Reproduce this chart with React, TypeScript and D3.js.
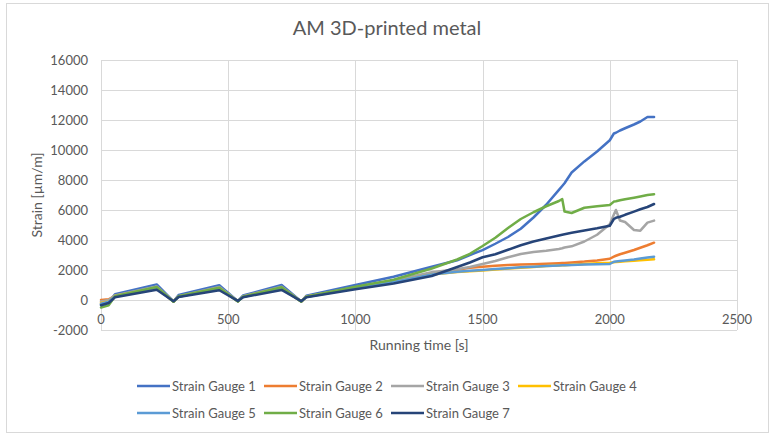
import React from "react";
import * as d3 from "d3";

const title = "AM 3D-printed metal";
const xTitle = "Running time [s]";
const yTitle = "Strain [µm/m]";
const xTicks = [0, 500, 1000, 1500, 2000, 2500];
const yTicks = [-2000, 0, 2000, 4000, 6000, 8000, 10000, 12000, 14000, 16000];

const times = [0, 30, 55, 219, 285, 305, 465, 538, 558, 710, 787, 807, 1000, 1150, 1300, 1400, 1450, 1500, 1550, 1600, 1650, 1700, 1750, 1800, 1813, 1822, 1850, 1900, 1950, 2000, 2016, 2024, 2040, 2060, 2095, 2120, 2148, 2174];

const sg1 = [-300, -150, 380, 1040, -100, 330, 980, -80, 300, 1000, -100, 280, 1000, 1550, 2220, 2650, 3000, 3330, 3750, 4200, 4750, 5500, 6350, 7340, 7600, 7780, 8500, 9240, 9900, 10650, 11100, 11150, 11300, 11450, 11700, 11900, 12200, 12200];
const sg2 = [0, 50, 280, 820, -100, 230, 800, -80, 220, 820, -100, 220, 820, 1250, 1800, 2020, 2150, 2220, 2280, 2330, 2360, 2390, 2420, 2450, 2460, 2470, 2500, 2560, 2640, 2750, 2890, 2950, 3050, 3150, 3330, 3480, 3650, 3820];
const sg3 = [-100, 0, 300, 900, -100, 250, 870, -80, 250, 880, -100, 230, 850, 1300, 1850, 2050, 2200, 2400, 2600, 2850, 3070, 3200, 3280, 3400, 3450, 3500, 3580, 3900, 4350, 5050, 5700, 6000, 5300, 5200, 4670, 4620, 5160, 5290];
const sg4 = [-200, -100, 260, 800, -100, 220, 780, -80, 210, 800, -100, 210, 800, 1200, 1700, 1870, 1920, 1960, 2030, 2100, 2150, 2200, 2260, 2300, 2310, 2320, 2350, 2400, 2450, 2490, 2520, 2530, 2550, 2580, 2620, 2650, 2680, 2710];
const sg5 = [-250, -120, 250, 780, -100, 210, 770, -80, 200, 790, -100, 200, 790, 1200, 1700, 1880, 1950, 2000, 2060, 2120, 2180, 2220, 2270, 2300, 2310, 2320, 2340, 2360, 2380, 2400, 2550, 2570, 2600, 2640, 2700, 2760, 2830, 2890];
const sg6 = [-500, -350, 250, 870, -120, 250, 820, -100, 220, 850, -110, 220, 880, 1350, 2100, 2700, 3080, 3600, 4150, 4800, 5400, 5850, 6250, 6600, 6730, 5900, 5800, 6150, 6250, 6330, 6560, 6580, 6650, 6720, 6820, 6900, 7000, 7050];
const sg7 = [-350, -200, 180, 680, -80, 200, 650, -60, 180, 670, -80, 180, 710, 1100, 1600, 2200, 2500, 2850, 3050, 3350, 3650, 3900, 4100, 4300, 4350, 4380, 4480, 4630, 4780, 4950, 5400, 5480, 5550, 5680, 5890, 6050, 6200, 6400];

const seriesNames = ["Strain Gauge 1", "Strain Gauge 2", "Strain Gauge 3", "Strain Gauge 4", "Strain Gauge 5", "Strain Gauge 6", "Strain Gauge 7"];
const seriesValues = [sg1, sg2, sg3, sg4, sg5, sg6, sg7];
const seriesColors = ["#4472C4", "#ED7D31", "#A5A5A5", "#FFC000", "#5B9BD5", "#70AD47", "#264478"];

const W = 772;
const H = 435;
const plot = { left: 101, right: 737, top: 60, bottom: 330 };
const font = "Lato, 'Open Sans', sans-serif";
const textColor = "#595959";
const gridColor = "#d9d9d9";

export default function App() {
  const x = d3.scaleLinear().domain([0, 2500]).range([plot.left, plot.right]);
  const y = d3.scaleLinear().domain([-2000, 16000]).range([plot.bottom, plot.top]);
  const line = d3
    .line<number>()
    .x((_, i) => x(times[i]))
    .y((d) => y(d));

  const legendCols = [137, 264, 391, 518];
  const legendRows = [386, 413];

  return (
    <svg
      width={W}
      height={H}
      style={{ position: "absolute", left: 0, top: 0, background: "#fff" }}
      fontFamily={font}
    >
      <rect x={6.5} y={3.5} width={762} height={429} fill="#fff" stroke={gridColor} strokeWidth={1} />
      <text x={W / 2 + 1} y={35} textAnchor="middle" fontSize={20} fill={textColor}>
        {title}
      </text>
      {yTicks.map((t) => (
        <line key={"h" + t} x1={plot.left} x2={plot.right} y1={Math.round(y(t)) + 0.5} y2={Math.round(y(t)) + 0.5} stroke={gridColor} strokeWidth={1} />
      ))}
      {xTicks.map((t) => (
        <line key={"v" + t} x1={Math.round(x(t)) + 0.5} x2={Math.round(x(t)) + 0.5} y1={plot.top} y2={plot.bottom} stroke={gridColor} strokeWidth={1} />
      ))}
      {yTicks.map((t) => (
        <text key={"yl" + t} x={88} y={y(t)} dy="0.35em" textAnchor="end" fontSize={13} fill={textColor}>
          {t}
        </text>
      ))}
      {xTicks.map((t) => (
        <text key={"xl" + t} x={x(t)} y={y(0) + 19} dy="0.35em" textAnchor="middle" fontSize={13} fill={textColor}>
          {t}
        </text>
      ))}
      <text x={(plot.left + plot.right) / 2} y={350} textAnchor="middle" fontSize={14} fill={textColor}>
        {xTitle}
      </text>
      <text
        transform={`translate(42, ${(plot.top + plot.bottom) / 2}) rotate(-90)`}
        textAnchor="middle"
        fontSize={14}
        fill={textColor}
      >
        {yTitle}
      </text>
      {seriesValues.map((vals, i) => (
        <path key={"s" + i} d={line(vals) || ""} fill="none" stroke={seriesColors[i]} strokeWidth={2.5} strokeLinejoin="round" strokeLinecap="round" />
      ))}
      {seriesNames.map((name, i) => {
        const cx = legendCols[i % 4];
        const cy = legendRows[Math.floor(i / 4)];
        return (
          <g key={"lg" + i}>
            <line x1={cx} x2={cx + 33} y1={cy} y2={cy} stroke={seriesColors[i]} strokeWidth={2.5} />
            <text x={cx + 35} y={cy} dy="0.35em" fontSize={13} fill={textColor}>
              {name}
            </text>
          </g>
        );
      })}
    </svg>
  );
}
